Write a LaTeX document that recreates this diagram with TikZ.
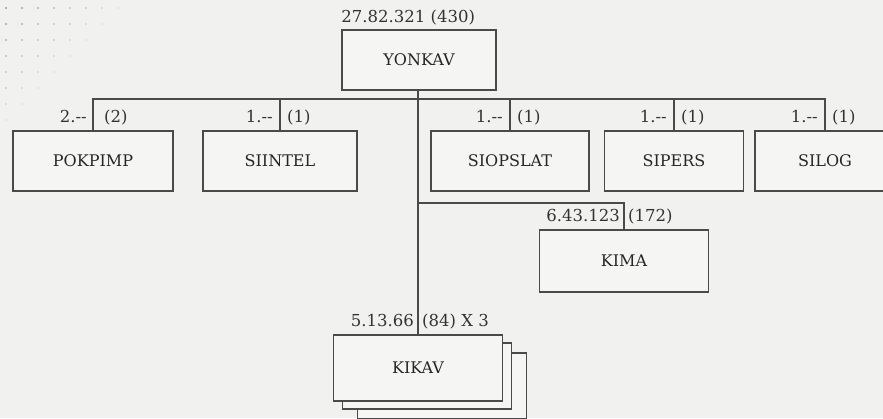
\documentclass[tikz,border=0pt]{standalone}
\usepackage{fontspec}
\setmainfont{DejaVu Serif}
\usetikzlibrary{positioning}
\definecolor{linegray}{HTML}{4A4A4A}
\definecolor{pagegray}{HTML}{F1F1F0}
\definecolor{boxfill}{HTML}{F5F5F4}
\tikzset{
unit/.style = {draw=linegray, line width=1.6pt, fill=boxfill, inner sep=0pt,
  minimum height=60pt, font=\fontsize{16}{18}\selectfont, text=black!85},% box of one unit
tag/.style = {inner sep=0pt, font=\fontsize{16.5}{18}\selectfont, text=black!80},% strength label
link/.style = {draw=linegray, line width=1.6pt}
}

\begin{document}
\begin{tikzpicture}[x=1pt,y=-1pt]
  \fill[pagegray] (0,0) rectangle (883,418);
  \useasboundingbox (0,0) rectangle (883,418);
  \clip (0,0) rectangle (883,418);
  % faint dots, top left
  \foreach \i in {0,...,8}
    \foreach \j in {0,...,8}
      \pgfmathsetmacro{\op}{max(0,0.35-0.04*(\i+\j))}
      \fill[black, opacity=\op] (6+16*\i,8+16*\j) circle (1.2pt);

  % units
  \node [unit, minimum width=154pt] (yonkav) at (419,60) {YONKAV};
  \node [unit, minimum width=160pt] (pokpimp) at (93,161) {POKPIMP};
  \node [unit, minimum width=154pt] (siintel) at (280,161) {SIINTEL};
  \node [unit, minimum width=158pt] (siopslat) at (510,161) {SIOPSLAT};
  \node [unit, minimum width=139pt] (sipers) at (674,161) {SIPERS};
  \node [unit, minimum width=140pt] (silog) at (825,161) {SILOG};
  \node [unit, minimum width=169pt, minimum height=62pt] (kima) at (624,261) {KIMA};
  % kikav, three copies
  \node [unit, minimum width=169pt, minimum height=66pt] (kikav3) at (442,386) {};
  \node [unit, minimum width=169pt, minimum height=66pt] (kikav2) at (427,376) {};
  \node [unit, minimum width=169pt, minimum height=66pt] (kikav) at (418,368) {KIKAV};

  % connectors
  \coordinate (bus) at (0,99);
  \coordinate (kimajoin) at (418,203);
  \draw [link] (yonkav.south -| kikav.north) -- (kikav.north);
  \draw [link] (pokpimp.north) |- (silog.north |- bus) -- (silog.north);
  \foreach \u in {siintel,siopslat,sipers}
    \draw [link] (\u.north) -- (\u.north |- bus);
  \draw [link] (kimajoin) -| (kima.north);

  % labels
  \node [tag, anchor=base west] (yonkavtag) at ([yshift=7pt]yonkav.north west) {27.82.321 (430)};
  \node [tag, anchor=base east] (pokpimptagl) at ([shift={(-6pt,8pt)}]pokpimp.north) {2.-{}-};
  \node [tag, anchor=base west] (pokpimptagr) at ([shift={(11pt,8pt)}]pokpimp.north) {(2)};
  \foreach \u in {siintel,siopslat,sipers,silog} {
    \node [tag, anchor=base east] (\u tagl) at ([shift={(-7pt,8pt)}]\u.north) {1.-{}-};
    \node [tag, anchor=base west] (\u tagr) at ([shift={(7pt,8pt)}]\u.north) {(1)};
  }
  \node [tag, anchor=base east] (kimatagl) at ([shift={(-4pt,8pt)}]kima.north) {6.43.123};
  \node [tag, anchor=base west] (kimatagr) at ([shift={(4pt,8pt)}]kima.north) {(172)};
  \node [tag, anchor=base east] (kikavtagl) at ([shift={(-4pt,8pt)}]kikav.north) {5.13.66};
  \node [tag, anchor=base west] (kikavtagr) at ([shift={(4pt,8pt)}]kikav.north) {(84) X 3};
\end{tikzpicture}
\end{document}
